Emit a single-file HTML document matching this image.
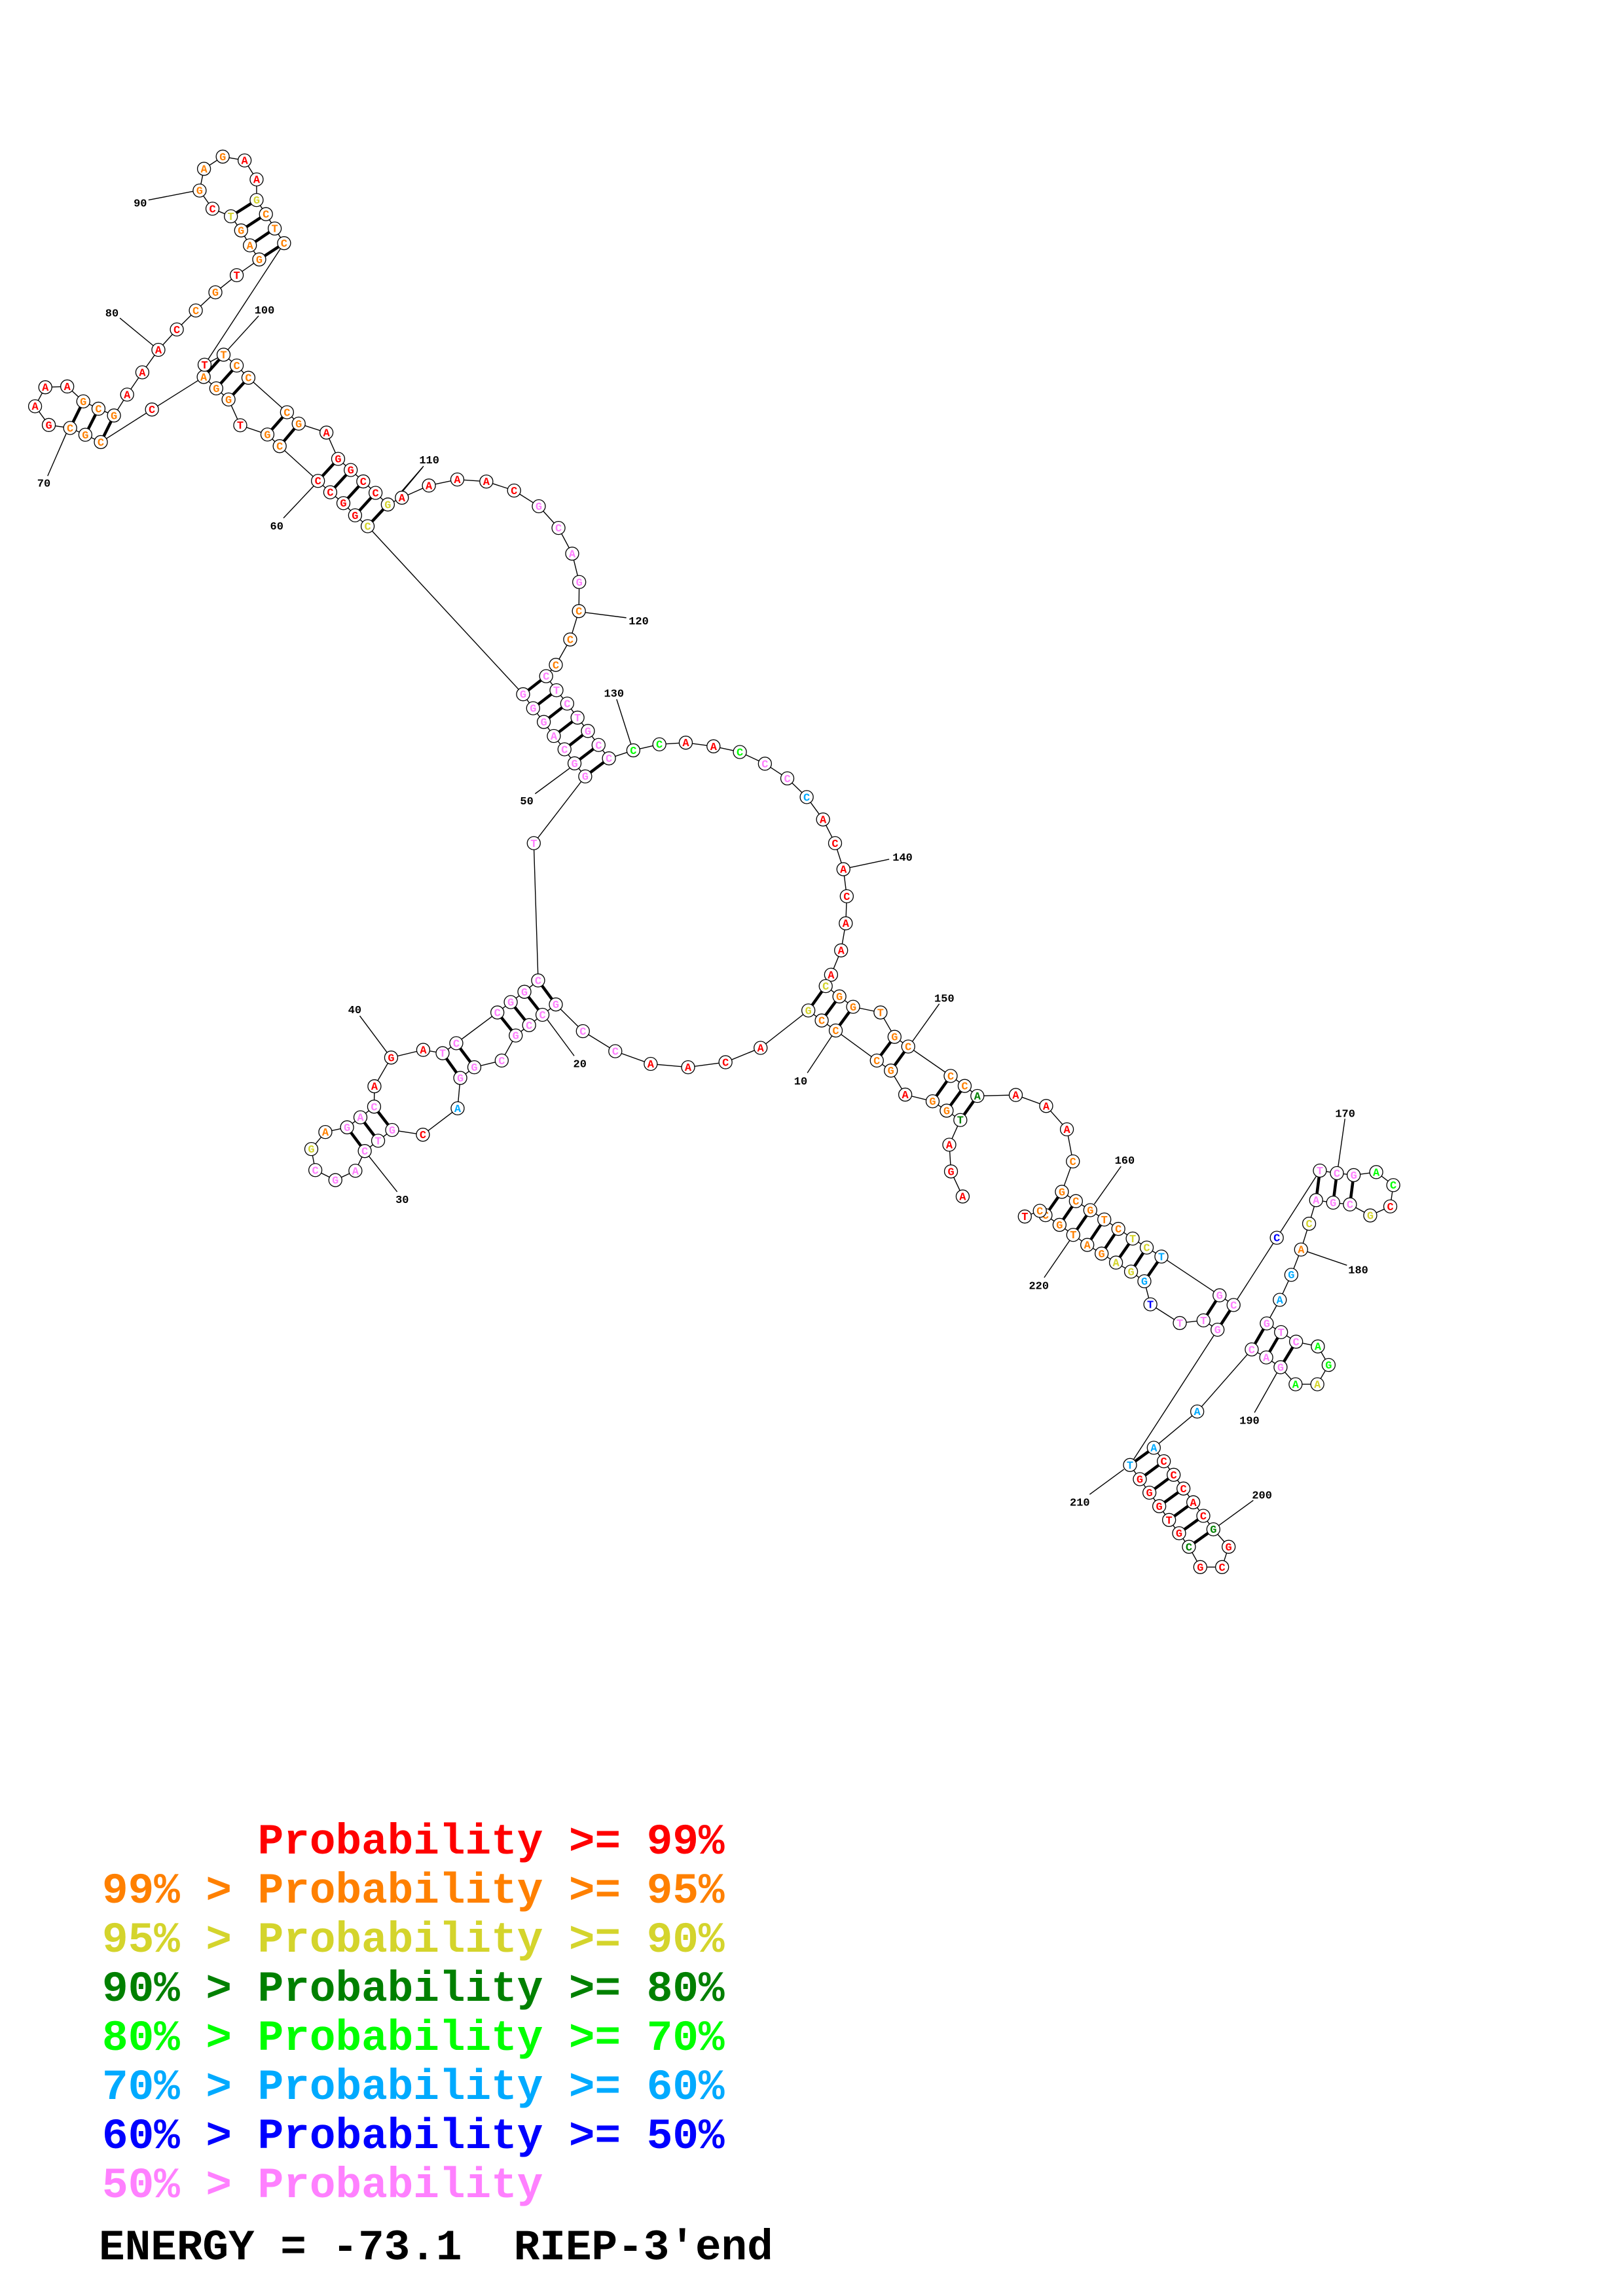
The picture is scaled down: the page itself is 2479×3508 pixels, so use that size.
<!DOCTYPE html>
<html><head><meta charset="utf-8">
<style>
html,body{margin:0;padding:0;background:#fff}
svg{display:block}
line,polyline{stroke:#000;fill:none;stroke-width:1.4;vector-effect:non-scaling-stroke}
.b{stroke-width:4.5}
circle{fill:#fff;stroke:#000;stroke-width:1.3}
.nd text{font-family:"Liberation Mono",monospace;font-weight:bold;font-size:17px;text-anchor:middle}
.lb{font-family:"Liberation Sans","DejaVu Sans",sans-serif;font-weight:bold;font-size:17px;text-anchor:middle;fill:#000}
.r{fill:#ff0000}.o{fill:#ff8000}.y{fill:#d4d42c}.d{fill:#008000}.g{fill:#00ff00}.c{fill:#00aaff}.u{fill:#0000ff}.p{fill:#ff80ff}
.leg{font-family:"Liberation Mono",monospace;font-weight:bold;font-size:66px;white-space:pre}
</style></head><body>
<svg width="2479" height="3508" viewBox="0 0 2479 3508" xmlns="http://www.w3.org/2000/svg">

<!-- ================= LINES ================= -->
<!-- Z4 frame -->
<g transform="translate(700,1050) scale(0.5102)">
<polyline points="1510,1525 1475,1450 1470,1370 1503,1296 1462,1268 1420,1240 1338,1220 1295,1148 1253,1118 1130,1028 1088,998 1048,968 905,1080 800,1123 688,1138 576,1128 470,1090 373,1030"/>
<polyline points="602,171 681,166 764,177 843,194 918,229 985,273 1043,329 1092,396 1128,467 1153,545 1163,626 1160,707 1146,788 1116,861 1100,895 1141,926 1182,957 1264,974 1306,1047 1347,1076 1474,1164 1516,1194 1554,1224"/>
<line class="b" x1="1503" y1="1296" x2="1554" y2="1224"/>
<line class="b" x1="1462" y1="1268" x2="1516" y2="1194"/>
<line class="b" x1="1420" y1="1240" x2="1474" y2="1164"/>
<line class="b" x1="1295" y1="1148" x2="1347" y2="1076"/>
<line class="b" x1="1253" y1="1118" x2="1306" y2="1047"/>
<line class="b" x1="1130" y1="1028" x2="1182" y2="957"/>
<line class="b" x1="1088" y1="998" x2="1141" y2="926"/>
<line class="b" x1="1048" y1="968" x2="1100" y2="895"/>
<line x1="1045" y1="1155" x2="1118" y2="1045"/>
<line x1="1440" y1="948" x2="1360" y2="1060"/>
<line x1="1290" y1="515" x2="1172" y2="540"/>
</g>
<!-- Z5 frame -->
<g transform="translate(400,1400) scale(0.5102)">
<polyline points="880,264 840,295 800,326 760,357 718,432 636,452 594,484 586,575 482,654 390,640 348,672 308,703 280,762 220,790 160,760 148,697 190,646 255,632 295,602 336,570 337,509 387,423 483,400 541,410 582,380 705,288 745,257 786,226 827,192"/>
<line class="b" x1="827" y1="192" x2="880" y2="264"/>
<line class="b" x1="786" y1="226" x2="840" y2="295"/>
<line class="b" x1="745" y1="257" x2="800" y2="326"/>
<line class="b" x1="705" y1="288" x2="760" y2="357"/>
<line class="b" x1="582" y1="380" x2="636" y2="452"/>
<line class="b" x1="541" y1="410" x2="594" y2="484"/>
<line class="b" x1="336" y1="570" x2="390" y2="640"/>
<line class="b" x1="295" y1="602" x2="348" y2="672"/>
<line class="b" x1="255" y1="632" x2="308" y2="703"/>
<line x1="935" y1="418" x2="855" y2="310"/>
<line x1="405" y1="825" x2="320" y2="718"/>
<line x1="293" y1="298" x2="375" y2="408"/>
</g>
<!-- Z3 frame -->
<g transform="translate(500,650) scale(0.5102)">
<polyline points="618,1251 772,1051 740,1012 710,970 678,930 648,888 616,847 586,805"/>
<polyline points="304,180 389,162 476,168 559,195 633,242 692,307 733,384 754,469 753,556 727,641 684,717 655,751 686,793 718,833 749,875 780,915 812,957 843,997 916,973"/>
<line class="b" x1="586" y1="805" x2="655" y2="751"/>
<line class="b" x1="616" y1="847" x2="686" y2="793"/>
<line class="b" x1="648" y1="888" x2="718" y2="833"/>
<line class="b" x1="678" y1="930" x2="749" y2="875"/>
<line class="b" x1="710" y1="970" x2="780" y2="915"/>
<line class="b" x1="740" y1="1012" x2="812" y2="957"/>
<line class="b" x1="772" y1="1051" x2="843" y2="997"/>
<line x1="622" y1="1103" x2="725" y2="1027"/>
<line x1="288" y1="122" x2="220" y2="200"/>
<line x1="895" y1="576" x2="770" y2="560"/>
<line x1="866" y1="820" x2="910" y2="958"/>
</g>
<!-- Z1 frame -->
<g transform="translate(0,180) scale(0.4464,0.4146)">
<polyline points="1258,1505 1215,1465 1175,1420 1130,1380 1088,1338 957,1210 915,1167 822,1133 782,1038 740,997 697,955 520,1075 345,1195 292,1168 240,1143 167,1132 120,1063 155,993 230,990 285,1045 337,1072 390,1097 435,1020 487,938 542,855 605,780 670,710 737,643 810,580 887,522 855,470 825,415 790,363 727,335 683,268 698,188 762,143 837,157 878,227 878,303 910,355 940,408 972,462 700,910 765,873 810,913 850,958 982,1085 1022,1127 1117,1160 1157,1257 1200,1298 1243,1340 1285,1382 1327,1425 1375,1400"/>
<line class="b" x1="1258" y1="1505" x2="1327" y2="1425"/>
<line class="b" x1="1215" y1="1465" x2="1285" y2="1382"/>
<line class="b" x1="1175" y1="1420" x2="1243" y2="1340"/>
<line class="b" x1="1130" y1="1380" x2="1200" y2="1298"/>
<line class="b" x1="1088" y1="1338" x2="1157" y2="1257"/>
<line class="b" x1="957" y1="1210" x2="1022" y2="1127"/>
<line class="b" x1="915" y1="1167" x2="982" y2="1085"/>
<line class="b" x1="782" y1="1038" x2="850" y2="958"/>
<line class="b" x1="740" y1="997" x2="810" y2="913"/>
<line class="b" x1="697" y1="955" x2="765" y2="873"/>
<line class="b" x1="345" y1="1195" x2="390" y2="1097"/>
<line class="b" x1="292" y1="1168" x2="337" y2="1072"/>
<line class="b" x1="240" y1="1143" x2="285" y2="1045"/>
<line class="b" x1="887" y1="522" x2="972" y2="462"/>
<line class="b" x1="855" y1="470" x2="940" y2="408"/>
<line class="b" x1="825" y1="415" x2="910" y2="355"/>
<line class="b" x1="790" y1="363" x2="878" y2="303"/>
<line x1="970" y1="1475" x2="1075" y2="1355"/>
<line x1="163" y1="1320" x2="228" y2="1160"/>
<line x1="410" y1="738" x2="525" y2="840"/>
<line x1="508" y1="303" x2="665" y2="270"/>
<line x1="885" y1="730" x2="775" y2="860"/>
<line x1="1445" y1="1290" x2="1375" y2="1380"/>
</g>
<!-- Z6 frame -->
<g transform="translate(1300,1600) scale(0.5102)">
<polyline points="493,143 584,176 646,246 664,342 631,433 673,461 716,488 758,516 800,544 843,573 885,600 929,627 1103,743 1145,772"/>
<polyline points="1097,846 1055,818 984,826 896,770 878,701 838,672 793,645 750,618 707,592 665,562 624,532 582,503 565,490 520,507"/>
<line class="b" x1="631" y1="433" x2="582" y2="503"/>
<line class="b" x1="673" y1="461" x2="624" y2="532"/>
<line class="b" x1="716" y1="488" x2="665" y2="562"/>
<line class="b" x1="758" y1="516" x2="707" y2="592"/>
<line class="b" x1="800" y1="544" x2="750" y2="618"/>
<line class="b" x1="843" y1="573" x2="793" y2="645"/>
<line class="b" x1="885" y1="600" x2="838" y2="672"/>
<line class="b" x1="929" y1="627" x2="878" y2="701"/>
<line class="b" x1="1103" y1="743" x2="1055" y2="818"/>
<line class="b" x1="1145" y1="772" x2="1097" y2="846"/>
<line x1="808" y1="357" x2="728" y2="470"/>
<line x1="578" y1="690" x2="655" y2="578"/>
</g>
<!-- Z7 frame -->
<g transform="translate(1600,1650) scale(0.3827)">
<polyline points="915,630 1087,362 1155,372 1222,380 1312,368 1380,420 1368,505 1288,541 1207,497 1140,490 1072,480 1044,574 1012,677 973,778 927,878 875,972 932,1007 992,1045 1079,1064 1122,1138 1077,1215 990,1215 930,1147 873,1108 815,1076"/>
<line class="b" x1="1087" y1="362" x2="1072" y2="480"/>
<line class="b" x1="1155" y1="372" x2="1140" y2="490"/>
<line class="b" x1="1222" y1="380" x2="1207" y2="497"/>
<line class="b" x1="875" y1="972" x2="815" y2="1076"/>
<line class="b" x1="932" y1="1007" x2="873" y2="1108"/>
<line class="b" x1="992" y1="1045" x2="930" y2="1147"/>
<line x1="1187" y1="155" x2="1160" y2="345"/>
<line x1="1195" y1="740" x2="1038" y2="686"/>
<line x1="826" y1="1328" x2="918" y2="1165"/>
</g>
<!-- Z8 frame -->
<g transform="translate(1600,2050) scale(0.3333)">
<polyline points="686,320 487,486 533,548 578,610 623,673 668,736 714,798 760,860 830,940 800,1033 700,1033 648,940 603,878 557,817 512,754 467,692 423,630 378,565"/>
<line class="b" x1="487" y1="486" x2="378" y2="565"/>
<line class="b" x1="533" y1="548" x2="423" y2="630"/>
<line class="b" x1="578" y1="610" x2="467" y2="692"/>
<line class="b" x1="623" y1="673" x2="512" y2="754"/>
<line class="b" x1="668" y1="736" x2="557" y2="817"/>
<line class="b" x1="714" y1="798" x2="603" y2="878"/>
<line class="b" x1="760" y1="860" x2="648" y2="940"/>
<line x1="943" y1="727" x2="785" y2="842"/>
<line x1="193" y1="700" x2="350" y2="585"/>
</g>
<!-- cross-frame lines -->
<line x1="890.3" y1="1575.5" x2="849" y2="1534.7"/>
<line x1="822" y1="1498" x2="815.3" y2="1288.3"/>
<line x1="799" y1="1060.7" x2="561.6" y2="804"/>
<line x1="613.8" y1="760.4" x2="655.1" y2="741.8"/>
<line x1="967.3" y1="1146.4" x2="1007.1" y2="1137.2"/>
<line x1="1492.9" y1="1674.5" x2="1551.5" y2="1673"/>
<line x1="1884.2" y1="1993.9" x2="1950.2" y2="1891.1"/>
<line x1="1911.9" y1="2061.8" x2="1828.7" y2="2156.7"/>
<line x1="1726" y1="2238.3" x2="1859.7" y2="2031.6"/>

<!-- ================= NODES & LABELS ================= -->
<g class="nd">
<!-- Z4 -->
<g transform="translate(700,1050) scale(0.5102)">
<g transform="translate(1510,1525)scale(1.96)"><circle r="10"/><text class="r" dy="5.5">A</text></g>
<g transform="translate(1475,1450)scale(1.96)"><circle r="10"/><text class="r" dy="5.5">G</text></g>
<g transform="translate(1470,1370)scale(1.96)"><circle r="10"/><text class="r" dy="5.5">A</text></g>
<g transform="translate(1503,1296)scale(1.96)"><circle r="10"/><text class="d" dy="5.5">T</text></g>
<g transform="translate(1462,1268)scale(1.96)"><circle r="10"/><text class="o" dy="5.5">G</text></g>
<g transform="translate(1420,1240)scale(1.96)"><circle r="10"/><text class="o" dy="5.5">G</text></g>
<g transform="translate(1338,1220)scale(1.96)"><circle r="10"/><text class="r" dy="5.5">A</text></g>
<g transform="translate(1295,1148)scale(1.96)"><circle r="10"/><text class="o" dy="5.5">G</text></g>
<g transform="translate(1253,1118)scale(1.96)"><circle r="10"/><text class="o" dy="5.5">C</text></g>
<g transform="translate(1130,1028)scale(1.96)"><circle r="10"/><text class="o" dy="5.5">C</text></g>
<g transform="translate(1088,998)scale(1.96)"><circle r="10"/><text class="o" dy="5.5">C</text></g>
<g transform="translate(1048,968)scale(1.96)"><circle r="10"/><text class="y" dy="5.5">G</text></g>
<g transform="translate(905,1080)scale(1.96)"><circle r="10"/><text class="r" dy="5.5">A</text></g>
<g transform="translate(800,1123)scale(1.96)"><circle r="10"/><text class="r" dy="5.5">C</text></g>
<g transform="translate(688,1138)scale(1.96)"><circle r="10"/><text class="r" dy="5.5">A</text></g>
<g transform="translate(576,1128)scale(1.96)"><circle r="10"/><text class="r" dy="5.5">A</text></g>
<g transform="translate(470,1090)scale(1.96)"><circle r="10"/><text class="p" dy="5.5">C</text></g>
<g transform="translate(373,1030)scale(1.96)"><circle r="10"/><text class="p" dy="5.5">C</text></g>
<g transform="translate(602,171)scale(1.96)"><circle r="10"/><text class="g" dy="5.5">C</text></g>
<g transform="translate(681,166)scale(1.96)"><circle r="10"/><text class="r" dy="5.5">A</text></g>
<g transform="translate(764,177)scale(1.96)"><circle r="10"/><text class="r" dy="5.5">A</text></g>
<g transform="translate(843,194)scale(1.96)"><circle r="10"/><text class="g" dy="5.5">C</text></g>
<g transform="translate(918,229)scale(1.96)"><circle r="10"/><text class="p" dy="5.5">C</text></g>
<g transform="translate(985,273)scale(1.96)"><circle r="10"/><text class="p" dy="5.5">C</text></g>
<g transform="translate(1043,329)scale(1.96)"><circle r="10"/><text class="c" dy="5.5">C</text></g>
<g transform="translate(1092,396)scale(1.96)"><circle r="10"/><text class="r" dy="5.5">A</text></g>
<g transform="translate(1128,467)scale(1.96)"><circle r="10"/><text class="r" dy="5.5">C</text></g>
<g transform="translate(1153,545)scale(1.96)"><circle r="10"/><text class="r" dy="5.5">A</text></g>
<g transform="translate(1163,626)scale(1.96)"><circle r="10"/><text class="r" dy="5.5">C</text></g>
<g transform="translate(1160,707)scale(1.96)"><circle r="10"/><text class="r" dy="5.5">A</text></g>
<g transform="translate(1146,788)scale(1.96)"><circle r="10"/><text class="r" dy="5.5">A</text></g>
<g transform="translate(1116,861)scale(1.96)"><circle r="10"/><text class="r" dy="5.5">A</text></g>
<g transform="translate(1100,895)scale(1.96)"><circle r="10"/><text class="y" dy="5.5">C</text></g>
<g transform="translate(1141,926)scale(1.96)"><circle r="10"/><text class="o" dy="5.5">G</text></g>
<g transform="translate(1182,957)scale(1.96)"><circle r="10"/><text class="o" dy="5.5">G</text></g>
<g transform="translate(1264,974)scale(1.96)"><circle r="10"/><text class="o" dy="5.5">T</text></g>
<g transform="translate(1306,1047)scale(1.96)"><circle r="10"/><text class="o" dy="5.5">G</text></g>
<g transform="translate(1347,1076)scale(1.96)"><circle r="10"/><text class="o" dy="5.5">C</text></g>
<g transform="translate(1474,1164)scale(1.96)"><circle r="10"/><text class="o" dy="5.5">C</text></g>
<g transform="translate(1516,1194)scale(1.96)"><circle r="10"/><text class="o" dy="5.5">C</text></g>
<g transform="translate(1554,1224)scale(1.96)"><circle r="10"/><text class="d" dy="5.5">A</text></g>
<g transform="translate(1025,1178)scale(1.96)"><text class="lb" dy="6">10</text></g>
<g transform="translate(1455,930)scale(1.96)"><text class="lb" dy="6">150</text></g>
<g transform="translate(1330,508)scale(1.96)"><text class="lb" dy="6">140</text></g>
</g>
<!-- Z5 -->
<g transform="translate(400,1400) scale(0.5102)">
<g transform="translate(880,264)scale(1.96)"><circle r="10"/><text class="p" dy="5.5">G</text></g>
<g transform="translate(840,295)scale(1.96)"><circle r="10"/><text class="p" dy="5.5">C</text></g>
<g transform="translate(800,326)scale(1.96)"><circle r="10"/><text class="p" dy="5.5">C</text></g>
<g transform="translate(760,357)scale(1.96)"><circle r="10"/><text class="p" dy="5.5">G</text></g>
<g transform="translate(718,432)scale(1.96)"><circle r="10"/><text class="p" dy="5.5">C</text></g>
<g transform="translate(636,452)scale(1.96)"><circle r="10"/><text class="p" dy="5.5">G</text></g>
<g transform="translate(594,484)scale(1.96)"><circle r="10"/><text class="p" dy="5.5">G</text></g>
<g transform="translate(586,575)scale(1.96)"><circle r="10"/><text class="c" dy="5.5">A</text></g>
<g transform="translate(482,654)scale(1.96)"><circle r="10"/><text class="r" dy="5.5">C</text></g>
<g transform="translate(390,640)scale(1.96)"><circle r="10"/><text class="p" dy="5.5">G</text></g>
<g transform="translate(348,672)scale(1.96)"><circle r="10"/><text class="p" dy="5.5">T</text></g>
<g transform="translate(308,703)scale(1.96)"><circle r="10"/><text class="p" dy="5.5">C</text></g>
<g transform="translate(280,762)scale(1.96)"><circle r="10"/><text class="p" dy="5.5">A</text></g>
<g transform="translate(220,790)scale(1.96)"><circle r="10"/><text class="p" dy="5.5">G</text></g>
<g transform="translate(160,760)scale(1.96)"><circle r="10"/><text class="p" dy="5.5">C</text></g>
<g transform="translate(148,697)scale(1.96)"><circle r="10"/><text class="y" dy="5.5">G</text></g>
<g transform="translate(190,646)scale(1.96)"><circle r="10"/><text class="o" dy="5.5">A</text></g>
<g transform="translate(255,632)scale(1.96)"><circle r="10"/><text class="p" dy="5.5">G</text></g>
<g transform="translate(295,602)scale(1.96)"><circle r="10"/><text class="p" dy="5.5">A</text></g>
<g transform="translate(336,570)scale(1.96)"><circle r="10"/><text class="p" dy="5.5">C</text></g>
<g transform="translate(337,509)scale(1.96)"><circle r="10"/><text class="r" dy="5.5">A</text></g>
<g transform="translate(387,423)scale(1.96)"><circle r="10"/><text class="r" dy="5.5">G</text></g>
<g transform="translate(483,400)scale(1.96)"><circle r="10"/><text class="r" dy="5.5">A</text></g>
<g transform="translate(541,410)scale(1.96)"><circle r="10"/><text class="p" dy="5.5">T</text></g>
<g transform="translate(582,380)scale(1.96)"><circle r="10"/><text class="p" dy="5.5">C</text></g>
<g transform="translate(705,288)scale(1.96)"><circle r="10"/><text class="p" dy="5.5">C</text></g>
<g transform="translate(745,257)scale(1.96)"><circle r="10"/><text class="p" dy="5.5">G</text></g>
<g transform="translate(786,226)scale(1.96)"><circle r="10"/><text class="p" dy="5.5">G</text></g>
<g transform="translate(827,192)scale(1.96)"><circle r="10"/><text class="p" dy="5.5">C</text></g>
<g transform="translate(952,440)scale(1.96)"><text class="lb" dy="6">20</text></g>
<g transform="translate(420,847)scale(1.96)"><text class="lb" dy="6">30</text></g>
<g transform="translate(278,278)scale(1.96)"><text class="lb" dy="6">40</text></g>
</g>
<!-- Z3 -->
<g transform="translate(500,650) scale(0.5102)">
<g transform="translate(618,1251)scale(1.96)"><circle r="10"/><text class="p" dy="5.5">T</text></g>
<g transform="translate(772,1051)scale(1.96)"><circle r="10"/><text class="p" dy="5.5">G</text></g>
<g transform="translate(740,1012)scale(1.96)"><circle r="10"/><text class="p" dy="5.5">G</text></g>
<g transform="translate(710,970)scale(1.96)"><circle r="10"/><text class="p" dy="5.5">C</text></g>
<g transform="translate(678,930)scale(1.96)"><circle r="10"/><text class="p" dy="5.5">A</text></g>
<g transform="translate(648,888)scale(1.96)"><circle r="10"/><text class="p" dy="5.5">G</text></g>
<g transform="translate(616,847)scale(1.96)"><circle r="10"/><text class="p" dy="5.5">G</text></g>
<g transform="translate(586,805)scale(1.96)"><circle r="10"/><text class="p" dy="5.5">G</text></g>
<g transform="translate(304,180)scale(1.96)"><circle r="10"/><text class="r" dy="5.5">A</text></g>
<g transform="translate(389,162)scale(1.96)"><circle r="10"/><text class="r" dy="5.5">A</text></g>
<g transform="translate(476,168)scale(1.96)"><circle r="10"/><text class="r" dy="5.5">A</text></g>
<g transform="translate(559,195)scale(1.96)"><circle r="10"/><text class="r" dy="5.5">C</text></g>
<g transform="translate(633,242)scale(1.96)"><circle r="10"/><text class="p" dy="5.5">G</text></g>
<g transform="translate(692,307)scale(1.96)"><circle r="10"/><text class="p" dy="5.5">C</text></g>
<g transform="translate(733,384)scale(1.96)"><circle r="10"/><text class="p" dy="5.5">A</text></g>
<g transform="translate(754,469)scale(1.96)"><circle r="10"/><text class="p" dy="5.5">G</text></g>
<g transform="translate(753,556)scale(1.96)"><circle r="10"/><text class="o" dy="5.5">C</text></g>
<g transform="translate(727,641)scale(1.96)"><circle r="10"/><text class="o" dy="5.5">C</text></g>
<g transform="translate(684,717)scale(1.96)"><circle r="10"/><text class="o" dy="5.5">C</text></g>
<g transform="translate(655,751)scale(1.96)"><circle r="10"/><text class="p" dy="5.5">C</text></g>
<g transform="translate(686,793)scale(1.96)"><circle r="10"/><text class="p" dy="5.5">T</text></g>
<g transform="translate(718,833)scale(1.96)"><circle r="10"/><text class="p" dy="5.5">C</text></g>
<g transform="translate(749,875)scale(1.96)"><circle r="10"/><text class="p" dy="5.5">T</text></g>
<g transform="translate(780,915)scale(1.96)"><circle r="10"/><text class="p" dy="5.5">G</text></g>
<g transform="translate(812,957)scale(1.96)"><circle r="10"/><text class="p" dy="5.5">C</text></g>
<g transform="translate(843,997)scale(1.96)"><circle r="10"/><text class="p" dy="5.5">C</text></g>
<g transform="translate(916,973)scale(1.96)"><circle r="10"/><text class="g" dy="5.5">C</text></g>
<g transform="translate(597,1123)scale(1.96)"><text class="lb" dy="6">50</text></g>
<g transform="translate(305,102)scale(1.96)"><text class="lb" dy="6">110</text></g>
<g transform="translate(932,584)scale(1.96)"><text class="lb" dy="6">120</text></g>
<g transform="translate(858,801)scale(1.96)"><text class="lb" dy="6">130</text></g>
</g>
<!-- Z1 -->
<g transform="translate(0,180) scale(0.4464,0.4146)">
<g transform="translate(1258,1505)scale(2.24,2.412)"><circle r="10"/><text class="y" dy="5.5">C</text></g>
<g transform="translate(1215,1465)scale(2.24,2.412)"><circle r="10"/><text class="r" dy="5.5">G</text></g>
<g transform="translate(1175,1420)scale(2.24,2.412)"><circle r="10"/><text class="r" dy="5.5">G</text></g>
<g transform="translate(1130,1380)scale(2.24,2.412)"><circle r="10"/><text class="r" dy="5.5">C</text></g>
<g transform="translate(1088,1338)scale(2.24,2.412)"><circle r="10"/><text class="r" dy="5.5">C</text></g>
<g transform="translate(957,1210)scale(2.24,2.412)"><circle r="10"/><text class="o" dy="5.5">C</text></g>
<g transform="translate(915,1167)scale(2.24,2.412)"><circle r="10"/><text class="o" dy="5.5">G</text></g>
<g transform="translate(822,1133)scale(2.24,2.412)"><circle r="10"/><text class="r" dy="5.5">T</text></g>
<g transform="translate(782,1038)scale(2.24,2.412)"><circle r="10"/><text class="o" dy="5.5">G</text></g>
<g transform="translate(740,997)scale(2.24,2.412)"><circle r="10"/><text class="o" dy="5.5">G</text></g>
<g transform="translate(697,955)scale(2.24,2.412)"><circle r="10"/><text class="o" dy="5.5">A</text></g>
<g transform="translate(520,1075)scale(2.24,2.412)"><circle r="10"/><text class="r" dy="5.5">C</text></g>
<g transform="translate(345,1195)scale(2.24,2.412)"><circle r="10"/><text class="o" dy="5.5">C</text></g>
<g transform="translate(292,1168)scale(2.24,2.412)"><circle r="10"/><text class="o" dy="5.5">G</text></g>
<g transform="translate(240,1143)scale(2.24,2.412)"><circle r="10"/><text class="o" dy="5.5">C</text></g>
<g transform="translate(167,1132)scale(2.24,2.412)"><circle r="10"/><text class="r" dy="5.5">G</text></g>
<g transform="translate(120,1063)scale(2.24,2.412)"><circle r="10"/><text class="r" dy="5.5">A</text></g>
<g transform="translate(155,993)scale(2.24,2.412)"><circle r="10"/><text class="r" dy="5.5">A</text></g>
<g transform="translate(230,990)scale(2.24,2.412)"><circle r="10"/><text class="r" dy="5.5">A</text></g>
<g transform="translate(285,1045)scale(2.24,2.412)"><circle r="10"/><text class="o" dy="5.5">G</text></g>
<g transform="translate(337,1072)scale(2.24,2.412)"><circle r="10"/><text class="o" dy="5.5">C</text></g>
<g transform="translate(390,1097)scale(2.24,2.412)"><circle r="10"/><text class="o" dy="5.5">G</text></g>
<g transform="translate(435,1020)scale(2.24,2.412)"><circle r="10"/><text class="r" dy="5.5">A</text></g>
<g transform="translate(487,938)scale(2.24,2.412)"><circle r="10"/><text class="r" dy="5.5">A</text></g>
<g transform="translate(542,855)scale(2.24,2.412)"><circle r="10"/><text class="r" dy="5.5">A</text></g>
<g transform="translate(605,780)scale(2.24,2.412)"><circle r="10"/><text class="r" dy="5.5">C</text></g>
<g transform="translate(670,710)scale(2.24,2.412)"><circle r="10"/><text class="o" dy="5.5">C</text></g>
<g transform="translate(737,643)scale(2.24,2.412)"><circle r="10"/><text class="o" dy="5.5">G</text></g>
<g transform="translate(810,580)scale(2.24,2.412)"><circle r="10"/><text class="r" dy="5.5">T</text></g>
<g transform="translate(887,522)scale(2.24,2.412)"><circle r="10"/><text class="o" dy="5.5">G</text></g>
<g transform="translate(855,470)scale(2.24,2.412)"><circle r="10"/><text class="o" dy="5.5">A</text></g>
<g transform="translate(825,415)scale(2.24,2.412)"><circle r="10"/><text class="o" dy="5.5">G</text></g>
<g transform="translate(790,363)scale(2.24,2.412)"><circle r="10"/><text class="y" dy="5.5">T</text></g>
<g transform="translate(727,335)scale(2.24,2.412)"><circle r="10"/><text class="r" dy="5.5">C</text></g>
<g transform="translate(683,268)scale(2.24,2.412)"><circle r="10"/><text class="o" dy="5.5">G</text></g>
<g transform="translate(698,188)scale(2.24,2.412)"><circle r="10"/><text class="o" dy="5.5">A</text></g>
<g transform="translate(762,143)scale(2.24,2.412)"><circle r="10"/><text class="o" dy="5.5">G</text></g>
<g transform="translate(837,157)scale(2.24,2.412)"><circle r="10"/><text class="r" dy="5.5">A</text></g>
<g transform="translate(878,227)scale(2.24,2.412)"><circle r="10"/><text class="r" dy="5.5">A</text></g>
<g transform="translate(878,303)scale(2.24,2.412)"><circle r="10"/><text class="y" dy="5.5">G</text></g>
<g transform="translate(910,355)scale(2.24,2.412)"><circle r="10"/><text class="o" dy="5.5">C</text></g>
<g transform="translate(940,408)scale(2.24,2.412)"><circle r="10"/><text class="o" dy="5.5">T</text></g>
<g transform="translate(972,462)scale(2.24,2.412)"><circle r="10"/><text class="o" dy="5.5">C</text></g>
<g transform="translate(700,910)scale(2.24,2.412)"><circle r="10"/><text class="r" dy="5.5">T</text></g>
<g transform="translate(765,873)scale(2.24,2.412)"><circle r="10"/><text class="o" dy="5.5">T</text></g>
<g transform="translate(810,913)scale(2.24,2.412)"><circle r="10"/><text class="o" dy="5.5">C</text></g>
<g transform="translate(850,958)scale(2.24,2.412)"><circle r="10"/><text class="o" dy="5.5">C</text></g>
<g transform="translate(982,1085)scale(2.24,2.412)"><circle r="10"/><text class="o" dy="5.5">C</text></g>
<g transform="translate(1022,1127)scale(2.24,2.412)"><circle r="10"/><text class="o" dy="5.5">G</text></g>
<g transform="translate(1117,1160)scale(2.24,2.412)"><circle r="10"/><text class="r" dy="5.5">A</text></g>
<g transform="translate(1157,1257)scale(2.24,2.412)"><circle r="10"/><text class="r" dy="5.5">G</text></g>
<g transform="translate(1200,1298)scale(2.24,2.412)"><circle r="10"/><text class="r" dy="5.5">G</text></g>
<g transform="translate(1243,1340)scale(2.24,2.412)"><circle r="10"/><text class="r" dy="5.5">C</text></g>
<g transform="translate(1285,1382)scale(2.24,2.412)"><circle r="10"/><text class="r" dy="5.5">C</text></g>
<g transform="translate(1327,1425)scale(2.24,2.412)"><circle r="10"/><text class="y" dy="5.5">G</text></g>
<g transform="translate(1375,1400)scale(2.24,2.412)"><circle r="10"/><text class="r" dy="5.5">A</text></g>
<g transform="translate(947,1503)scale(2.24,2.412)"><text class="lb" dy="6">60</text></g>
<g transform="translate(150,1345)scale(2.24,2.412)"><text class="lb" dy="6">70</text></g>
<g transform="translate(383,717)scale(2.24,2.412)"><text class="lb" dy="6">80</text></g>
<g transform="translate(480,312)scale(2.24,2.412)"><text class="lb" dy="6">90</text></g>
<g transform="translate(905,707)scale(2.24,2.412)"><text class="lb" dy="6">100</text></g>
</g>
<!-- Z6 -->
<g transform="translate(1300,1600) scale(0.5102)">
<g transform="translate(493,143)scale(1.96)"><circle r="10"/><text class="r" dy="5.5">A</text></g>
<g transform="translate(584,176)scale(1.96)"><circle r="10"/><text class="r" dy="5.5">A</text></g>
<g transform="translate(646,246)scale(1.96)"><circle r="10"/><text class="r" dy="5.5">A</text></g>
<g transform="translate(664,342)scale(1.96)"><circle r="10"/><text class="o" dy="5.5">C</text></g>
<g transform="translate(631,433)scale(1.96)"><circle r="10"/><text class="o" dy="5.5">G</text></g>
<g transform="translate(673,461)scale(1.96)"><circle r="10"/><text class="o" dy="5.5">C</text></g>
<g transform="translate(716,488)scale(1.96)"><circle r="10"/><text class="o" dy="5.5">G</text></g>
<g transform="translate(758,516)scale(1.96)"><circle r="10"/><text class="o" dy="5.5">T</text></g>
<g transform="translate(800,544)scale(1.96)"><circle r="10"/><text class="o" dy="5.5">C</text></g>
<g transform="translate(843,573)scale(1.96)"><circle r="10"/><text class="y" dy="5.5">T</text></g>
<g transform="translate(885,600)scale(1.96)"><circle r="10"/><text class="y" dy="5.5">C</text></g>
<g transform="translate(929,627)scale(1.96)"><circle r="10"/><text class="c" dy="5.5">T</text></g>
<g transform="translate(1103,743)scale(1.96)"><circle r="10"/><text class="p" dy="5.5">G</text></g>
<g transform="translate(1145,772)scale(1.96)"><circle r="10"/><text class="p" dy="5.5">C</text></g>
<g transform="translate(1097,846)scale(1.96)"><circle r="10"/><text class="p" dy="5.5">G</text></g>
<g transform="translate(1055,818)scale(1.96)"><circle r="10"/><text class="p" dy="5.5">T</text></g>
<g transform="translate(984,826)scale(1.96)"><circle r="10"/><text class="p" dy="5.5">T</text></g>
<g transform="translate(896,770)scale(1.96)"><circle r="10"/><text class="u" dy="5.5">T</text></g>
<g transform="translate(878,701)scale(1.96)"><circle r="10"/><text class="c" dy="5.5">G</text></g>
<g transform="translate(838,672)scale(1.96)"><circle r="10"/><text class="y" dy="5.5">G</text></g>
<g transform="translate(793,645)scale(1.96)"><circle r="10"/><text class="y" dy="5.5">A</text></g>
<g transform="translate(750,618)scale(1.96)"><circle r="10"/><text class="o" dy="5.5">G</text></g>
<g transform="translate(707,592)scale(1.96)"><circle r="10"/><text class="o" dy="5.5">A</text></g>
<g transform="translate(665,562)scale(1.96)"><circle r="10"/><text class="o" dy="5.5">T</text></g>
<g transform="translate(624,532)scale(1.96)"><circle r="10"/><text class="o" dy="5.5">G</text></g>
<g transform="translate(582,503)scale(1.96)"><circle r="10"/><text class="o" dy="5.5">C</text></g>
<g transform="translate(565,490)scale(1.96)"><circle r="10"/><text class="o" dy="5.5">C</text></g>
<g transform="translate(520,507)scale(1.96)"><circle r="10"/><text class="r" dy="5.5">T</text></g>
<g transform="translate(819,337)scale(1.96)"><text class="lb" dy="6">160</text></g>
<g transform="translate(562,712)scale(1.96)"><text class="lb" dy="6">220</text></g>
</g>
<!-- Z7 -->
<g transform="translate(1600,1650) scale(0.3827)">
<g transform="translate(915,630)scale(2.613)"><circle r="10"/><text class="u" dy="5.5">C</text></g>
<g transform="translate(1087,362)scale(2.613)"><circle r="10"/><text class="p" dy="5.5">T</text></g>
<g transform="translate(1155,372)scale(2.613)"><circle r="10"/><text class="p" dy="5.5">C</text></g>
<g transform="translate(1222,380)scale(2.613)"><circle r="10"/><text class="p" dy="5.5">G</text></g>
<g transform="translate(1312,368)scale(2.613)"><circle r="10"/><text class="g" dy="5.5">A</text></g>
<g transform="translate(1380,420)scale(2.613)"><circle r="10"/><text class="g" dy="5.5">C</text></g>
<g transform="translate(1368,505)scale(2.613)"><circle r="10"/><text class="r" dy="5.5">C</text></g>
<g transform="translate(1288,541)scale(2.613)"><circle r="10"/><text class="y" dy="5.5">G</text></g>
<g transform="translate(1207,497)scale(2.613)"><circle r="10"/><text class="p" dy="5.5">C</text></g>
<g transform="translate(1140,490)scale(2.613)"><circle r="10"/><text class="p" dy="5.5">G</text></g>
<g transform="translate(1072,480)scale(2.613)"><circle r="10"/><text class="p" dy="5.5">A</text></g>
<g transform="translate(1044,574)scale(2.613)"><circle r="10"/><text class="y" dy="5.5">C</text></g>
<g transform="translate(1012,677)scale(2.613)"><circle r="10"/><text class="o" dy="5.5">A</text></g>
<g transform="translate(973,778)scale(2.613)"><circle r="10"/><text class="c" dy="5.5">G</text></g>
<g transform="translate(927,878)scale(2.613)"><circle r="10"/><text class="c" dy="5.5">A</text></g>
<g transform="translate(875,972)scale(2.613)"><circle r="10"/><text class="p" dy="5.5">G</text></g>
<g transform="translate(932,1007)scale(2.613)"><circle r="10"/><text class="p" dy="5.5">T</text></g>
<g transform="translate(992,1045)scale(2.613)"><circle r="10"/><text class="p" dy="5.5">C</text></g>
<g transform="translate(1079,1064)scale(2.613)"><circle r="10"/><text class="g" dy="5.5">A</text></g>
<g transform="translate(1122,1138)scale(2.613)"><circle r="10"/><text class="g" dy="5.5">G</text></g>
<g transform="translate(1077,1215)scale(2.613)"><circle r="10"/><text class="y" dy="5.5">A</text></g>
<g transform="translate(990,1215)scale(2.613)"><circle r="10"/><text class="g" dy="5.5">A</text></g>
<g transform="translate(930,1147)scale(2.613)"><circle r="10"/><text class="p" dy="5.5">G</text></g>
<g transform="translate(873,1108)scale(2.613)"><circle r="10"/><text class="p" dy="5.5">A</text></g>
<g transform="translate(815,1076)scale(2.613)"><circle r="10"/><text class="p" dy="5.5">C</text></g>
<g transform="translate(1188,132)scale(2.613)"><text class="lb" dy="6">170</text></g>
<g transform="translate(1240,757)scale(2.613)"><text class="lb" dy="6">180</text></g>
<g transform="translate(806,1357)scale(2.613)"><text class="lb" dy="6">190</text></g>
</g>
<!-- Z8 -->
<g transform="translate(1600,2050) scale(0.3333)">
<g transform="translate(686,320)scale(3)"><circle r="10"/><text class="c" dy="5.5">A</text></g>
<g transform="translate(487,486)scale(3)"><circle r="10"/><text class="c" dy="5.5">A</text></g>
<g transform="translate(533,548)scale(3)"><circle r="10"/><text class="r" dy="5.5">C</text></g>
<g transform="translate(578,610)scale(3)"><circle r="10"/><text class="r" dy="5.5">C</text></g>
<g transform="translate(623,673)scale(3)"><circle r="10"/><text class="r" dy="5.5">C</text></g>
<g transform="translate(668,736)scale(3)"><circle r="10"/><text class="r" dy="5.5">A</text></g>
<g transform="translate(714,798)scale(3)"><circle r="10"/><text class="r" dy="5.5">C</text></g>
<g transform="translate(760,860)scale(3)"><circle r="10"/><text class="d" dy="5.5">G</text></g>
<g transform="translate(830,940)scale(3)"><circle r="10"/><text class="r" dy="5.5">G</text></g>
<g transform="translate(800,1033)scale(3)"><circle r="10"/><text class="r" dy="5.5">C</text></g>
<g transform="translate(700,1033)scale(3)"><circle r="10"/><text class="r" dy="5.5">G</text></g>
<g transform="translate(648,940)scale(3)"><circle r="10"/><text class="d" dy="5.5">C</text></g>
<g transform="translate(603,878)scale(3)"><circle r="10"/><text class="r" dy="5.5">G</text></g>
<g transform="translate(557,817)scale(3)"><circle r="10"/><text class="r" dy="5.5">T</text></g>
<g transform="translate(512,754)scale(3)"><circle r="10"/><text class="r" dy="5.5">G</text></g>
<g transform="translate(467,692)scale(3)"><circle r="10"/><text class="r" dy="5.5">G</text></g>
<g transform="translate(423,630)scale(3)"><circle r="10"/><text class="r" dy="5.5">G</text></g>
<g transform="translate(378,565)scale(3)"><circle r="10"/><text class="c" dy="5.5">T</text></g>
<g transform="translate(983,700)scale(3)"><text class="lb" dy="6">200</text></g>
<g transform="translate(148,733)scale(3)"><text class="lb" dy="6">210</text></g>
</g>
</g>

<!-- ================= LEGEND ================= -->
<g class="leg">
<text x="156" y="2832" class="r" xml:space="preserve">      Probability &gt;= 99%</text>
<text x="156" y="2907" class="o" xml:space="preserve">99% &gt; Probability &gt;= 95%</text>
<text x="156" y="2982" class="y" xml:space="preserve">95% &gt; Probability &gt;= 90%</text>
<text x="156" y="3057" class="d" xml:space="preserve">90% &gt; Probability &gt;= 80%</text>
<text x="156" y="3132" class="g" xml:space="preserve">80% &gt; Probability &gt;= 70%</text>
<text x="156" y="3207" class="c" xml:space="preserve">70% &gt; Probability &gt;= 60%</text>
<text x="156" y="3282" class="u" xml:space="preserve">60% &gt; Probability &gt;= 50%</text>
<text x="156" y="3357" class="p" xml:space="preserve">50% &gt; Probability</text>
<text x="151" y="3452" fill="#000" xml:space="preserve">ENERGY = -73.1  RIEP-3'end</text>
</g>
</svg>
</body></html>
